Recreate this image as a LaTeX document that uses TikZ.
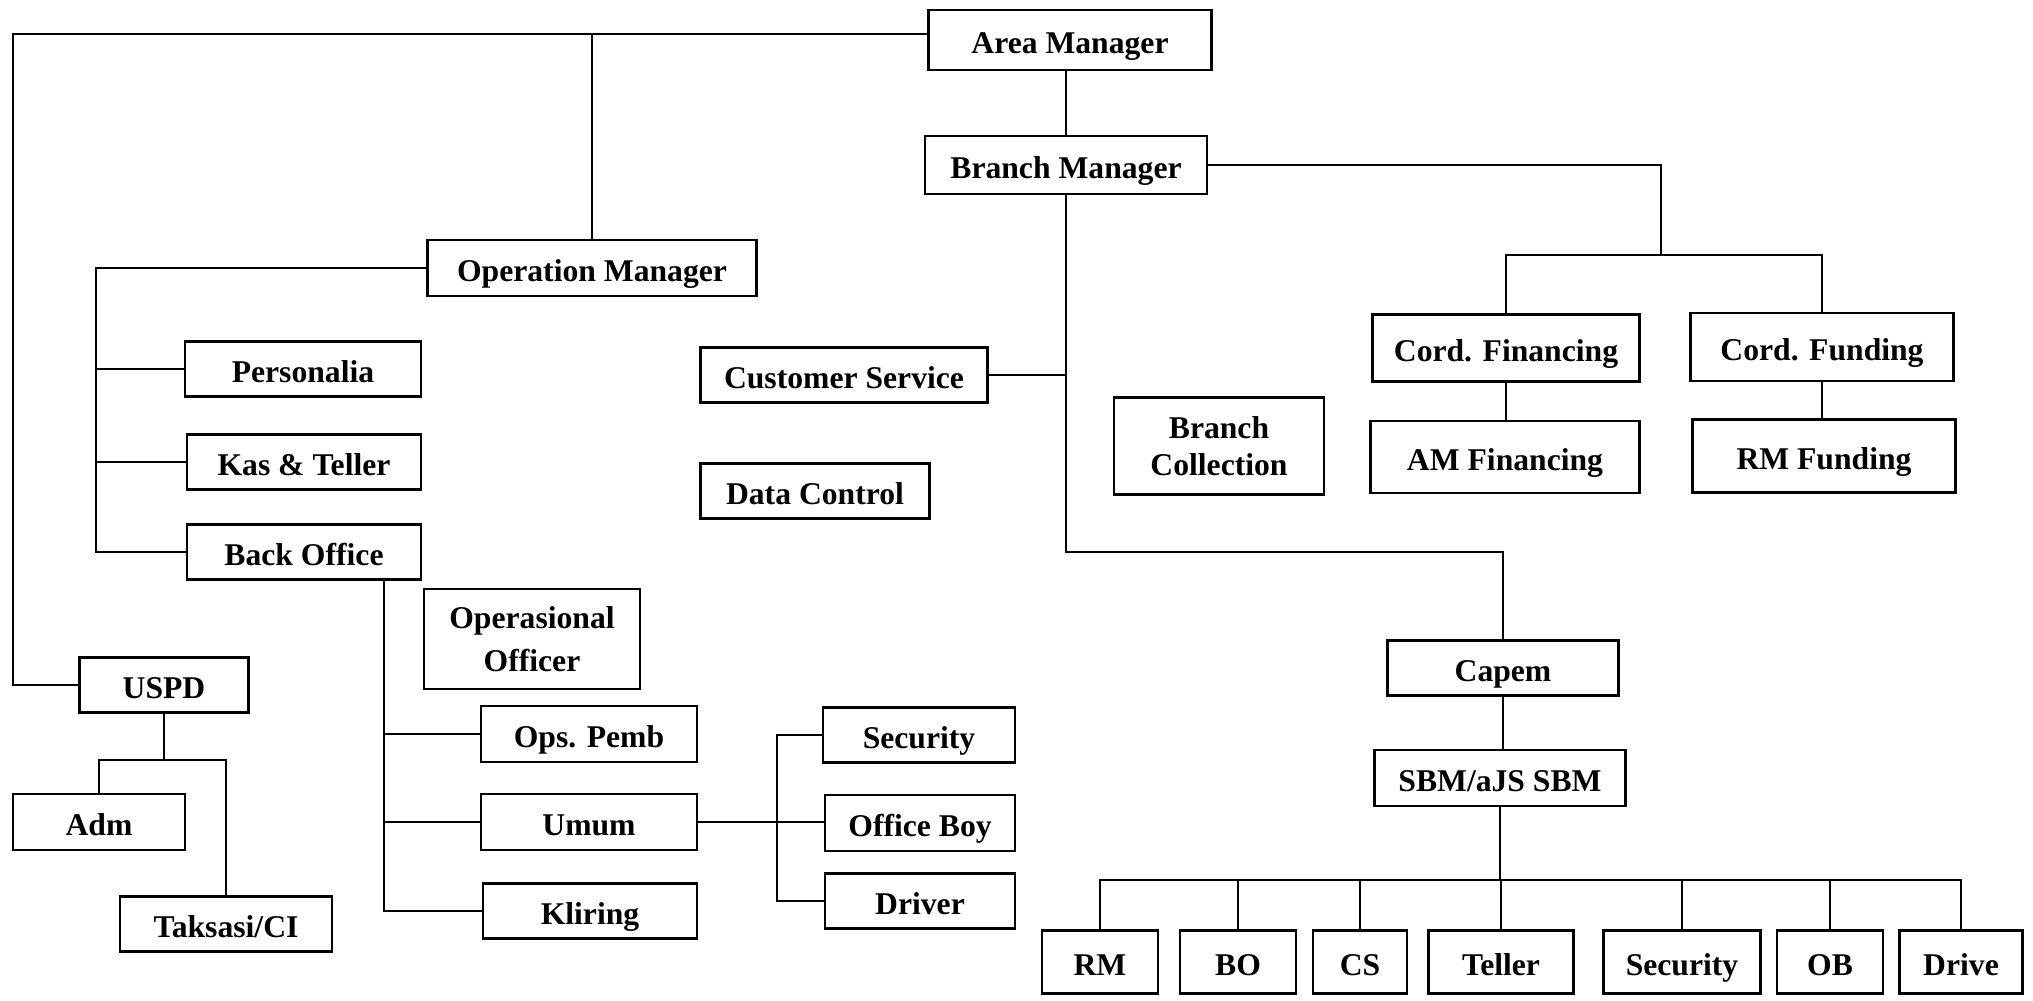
\documentclass[tikz,border=0pt]{standalone}
\usepackage{fontspec}
\setmainfont{Liberation Serif}
\usepackage{tikz}

\begin{document}
\begin{tikzpicture}[x=0.01cm, y=-0.01cm,
  unit_box/.style={draw, line width=0.7pt, align=center, inner sep=0pt, font=\fontsize{9}{11.5}\selectfont\bfseries},
  unit/.style={unit_box, text height=7.5pt, text depth=0pt},
  link/.style={line width=0.6pt}]
\useasboundingbox (0, 0) rectangle (2033, 1001);
\node[unit, minimum width=2.83cm, minimum height=0.60cm] (area_mgr) at (1070, 40) {Area Manager};
\node[unit, minimum width=2.82cm, minimum height=0.58cm] (branch_mgr) at (1066, 165) {Branch Manager};
\node[unit, minimum width=3.29cm, minimum height=0.56cm] (op_mgr) at (592, 268) {Operation Manager};
\node[unit, minimum width=2.36cm, minimum height=0.55cm] (personalia) at (303, 369) {Personalia};
\node[unit, minimum width=2.34cm, minimum height=0.55cm] (kas_teller) at (304, 462) {Kas \& Teller};
\node[unit, minimum width=2.34cm, minimum height=0.55cm] (back_office) at (304, 552) {Back Office};
\node[unit_box, minimum width=2.16cm, minimum height=1.00cm, font=\fontsize{9}{12.2}\selectfont\bfseries] (ops_officer) at (532, 639) {Operasional\\Officer};
\node[unit, minimum width=2.16cm, minimum height=0.56cm] (ops_pemb) at (589, 734) {Ops. Pemb};
\node[unit, minimum width=2.16cm, minimum height=0.56cm] (umum) at (589, 822) {Umum};
\node[unit, minimum width=2.14cm, minimum height=0.55cm] (kliring) at (590, 911) {Kliring};
\node[unit, minimum width=1.92cm, minimum height=0.55cm] (umum_sec) at (919, 735) {Security};
\node[unit, minimum width=1.90cm, minimum height=0.56cm] (umum_ob) at (920, 823) {Office Boy};
\node[unit, minimum width=1.90cm, minimum height=0.55cm] (umum_drv) at (920, 901) {Driver};
\node[unit, minimum width=1.69cm, minimum height=0.55cm] (uspd) at (164, 685) {USPD};
\node[unit, minimum width=1.72cm, minimum height=0.56cm] (adm) at (99, 822) {Adm};
\node[unit, minimum width=2.12cm, minimum height=0.55cm] (taksasi) at (226, 924) {Taksasi/CI};
\node[unit, minimum width=2.87cm, minimum height=0.55cm] (cust_service) at (844, 375) {Customer Service};
\node[unit, minimum width=2.29cm, minimum height=0.55cm] (data_control) at (815, 491) {Data Control};
\node[unit_box, minimum width=2.10cm, minimum height=0.97cm, font=\fontsize{9}{10.7}\selectfont\bfseries] (branch_coll) at (1219, 446) {Branch\\Collection};
\node[unit, minimum width=2.67cm, minimum height=0.67cm] (cord_fin) at (1506, 348) {Cord. Financing};
\node[unit, minimum width=2.63cm, minimum height=0.68cm] (cord_fund) at (1822, 347) {Cord. Funding};
\node[unit, minimum width=2.69cm, minimum height=0.72cm] (am_fin) at (1505, 457) {AM Financing};
\node[unit, minimum width=2.63cm, minimum height=0.73cm] (rm_fund) at (1824, 456) {RM Funding};
\node[unit, minimum width=2.31cm, minimum height=0.55cm] (capem) at (1503, 668) {Capem};
\node[unit, minimum width=2.51cm, minimum height=0.56cm] (sbm) at (1500, 778) {SBM/aJS SBM};
\node[unit, minimum width=1.16cm, minimum height=0.63cm] (c_rm) at (1100, 962) {RM};
\node[unit, minimum width=1.16cm, minimum height=0.63cm] (c_bo) at (1238, 962) {BO};
\node[unit, minimum width=0.94cm, minimum height=0.63cm] (c_cs) at (1360, 962) {CS};
\node[unit, minimum width=1.45cm, minimum height=0.63cm] (c_teller) at (1501, 962) {Teller};
\node[unit, minimum width=1.57cm, minimum height=0.63cm] (c_sec) at (1682, 962) {Security};
\node[unit, minimum width=1.06cm, minimum height=0.63cm] (c_ob) at (1830, 962) {OB};
\node[unit, minimum width=1.23cm, minimum height=0.63cm] (c_drive) at (1961, 962) {Drive};
% left side
\coordinate (top_rail) at (0, 34);
\coordinate (left_rail) at (13, 0);
\draw[link] (area_mgr.west |- top_rail) -| (left_rail |- uspd.west) -- (uspd.west);
\draw[link] (op_mgr.north) -- (op_mgr.north |- top_rail);
\coordinate (op_rail) at (96, 0);
\draw[link] (op_mgr.west) -| (op_rail |- back_office.west) -- (back_office.west);
\draw[link] (personalia.west) -- (personalia.west -| op_rail);
\draw[link] (kas_teller.west) -- (kas_teller.west -| op_rail);
\coordinate (bo_rail) at (384, 0);
\draw[link] (bo_rail |- back_office.south) |- (kliring.west);
\draw[link] (ops_pemb.west) -- (ops_pemb.west -| bo_rail);
\draw[link] (umum.west) -- (umum.west -| bo_rail);
\coordinate (umum_rail) at (777, 0);
\draw[link] (umum.east) -- (umum.east -| umum_ob.west);
\draw[link] (umum_sec.west) -| (umum_rail |- umum_drv.west) -- (umum_drv.west);
\coordinate (uspd_bar) at (0, 760);
\draw[link] (uspd.south) -- (uspd.south |- uspd_bar);
\draw[link] (adm.north) |- (taksasi.north |- uspd_bar) -- (taksasi.north);
% right side
\draw[link] (branch_mgr.north) -- (branch_mgr.north |- area_mgr.south);
\coordinate (fund_fork) at (1661, 255);
\draw[link] (branch_mgr.east) -| (fund_fork);
\draw[link] (cord_fin.north) |- (fund_fork) -| (cord_fund.north);
\draw[link] (cord_fin.south) -- (cord_fin.south |- am_fin.north);
\draw[link] (cord_fund.south) -- (cord_fund.south |- rm_fund.north);
\draw[link] (branch_mgr.south) |- (cust_service.east);
\coordinate (capem_bar) at (0, 552);
\draw[link] (branch_mgr.south) -- (branch_mgr.south |- capem_bar) -| (capem.north);
\draw[link] (capem.south) -- (capem.south |- sbm.north);
\coordinate (sbm_bar) at (0, 880);
\draw[link] (sbm.south) -- (sbm.south |- sbm_bar);
\draw[link] (c_rm.north) |- (sbm_bar -| c_drive.north) -- (c_drive.north);
\foreach \kid in {c_bo, c_cs, c_teller, c_sec, c_ob}
  \draw[link] (\kid.north) -- (\kid.north |- sbm_bar);
\end{tikzpicture}
\end{document}
